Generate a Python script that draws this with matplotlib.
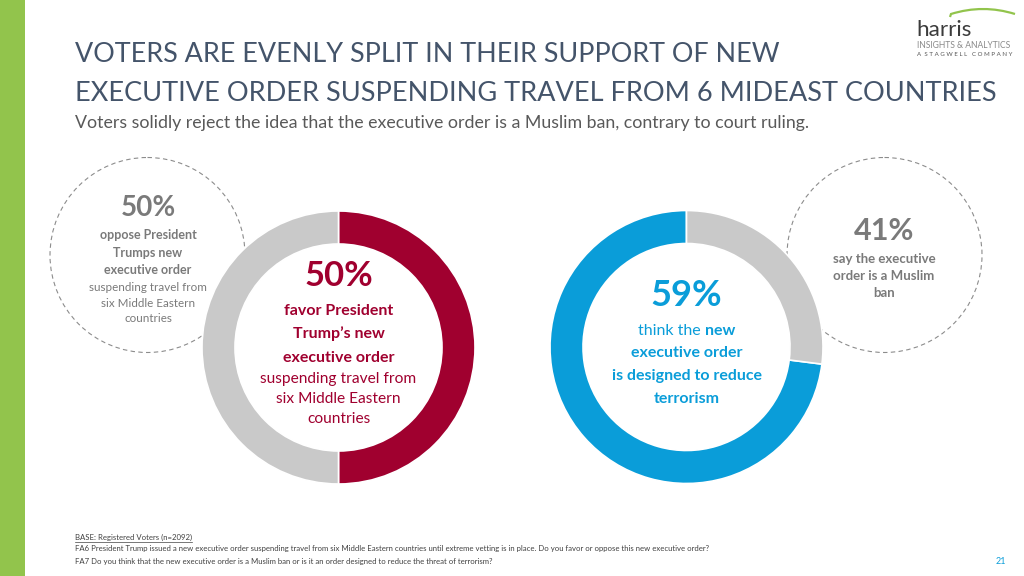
import numpy as np
import matplotlib
matplotlib.use("Agg")
import matplotlib.pyplot as plt
from matplotlib.patches import Circle, Rectangle, PathPatch
from matplotlib.path import Path

# ring values as drawn (first slice = highlighted answer)
favor_ring = [50, 50]      # favor, oppose
reason_ring = [73, 27]     # reduce terrorism, muslim ban (as drawn on the ring)
favor_pct = "50%"
oppose_pct = "50%"
reduce_pct = "59%"
ban_pct = "41%"

title_lines = ["VOTERS ARE EVENLY SPLIT IN THEIR SUPPORT OF NEW",
               "EXECUTIVE ORDER SUSPENDING TRAVEL FROM 6 MIDEAST COUNTRIES"]
subtitle = "Voters solidly reject the idea that the executive order is a Muslim ban, contrary to court ruling."
footnotes = ["BASE: Registered Voters (n=2092)",
             "FA6 President Trump issued a new executive order suspending travel from six Middle Eastern countries until extreme vetting is in place. Do you favor or oppose this new executive order?",
             "FA7 Do you think that the new executive order is a Muslim ban or is it an order designed to reduce the threat of terrorism?"]

RED = "#A0002F"
BLUE = "#0A9DD9"
RING_GRAY = "#C9C9C9"
TXT_GRAY = "#7A7A7A"
GREEN = "#92C44C"

plt.rcParams['font.family'] = ['Lato', 'DejaVu Sans']

fig = plt.figure(figsize=(10.24, 5.76), dpi=100)
fig.patch.set_facecolor("white")
renderer = fig.canvas.get_renderer()

# background axes in pixel coordinates
ax = fig.add_axes([0, 0, 1, 1], zorder=0)
ax.set_xlim(0, 1024)
ax.set_ylim(576, 0)
ax.axis("off")


def fit(t, width):
    w = t.get_window_extent(renderer).width
    t.set_fontsize(t.get_fontsize() * width / w)
    return t


def mixed(x, y, parts, size, color):
    texts = [ax.text(0, y, s, fontsize=size, fontweight=wt, color=color, ha="left", va="baseline")
             for s, wt in parts]
    widths = [t.get_window_extent(renderer).width for t in texts]
    x0 = x - sum(widths) / 2
    for t, w in zip(texts, widths):
        t.set_x(x0)
        x0 += w


# green side bar
ax.add_patch(Rectangle((0, 0), 25, 576, color=GREEN, lw=0))

# title + subtitle
t1 = ax.text(75, 62, title_lines[0], fontsize=20, color="#44546A", va="baseline")
fit(t1, 701)
t2 = ax.text(75, 101, title_lines[1], fontsize=20, color="#44546A", va="baseline")
fit(t2, 917)
t3 = ax.text(75, 128, subtitle, fontsize=12, color="#595959", va="baseline")
fit(t3, 731)

# logo
lg = ax.text(916, 36, "harris", fontsize=19, color="#3C3C3C", va="baseline")
fit(lg, 55)
l2 = ax.text(917, 48.5, "INSIGHTS & ANALYTICS", fontsize=5, color="#8A8A8A", va="baseline")
fit(l2, 95)
l3 = ax.text(917, 56, "A  S T A G W E L L   C O M P A N Y", fontsize=3.5, color="#555555", va="baseline")
fit(l3, 95)
arc = Path([(950, 17), (951, 14), (983, 4), (1015, 14)],
           [Path.MOVETO, Path.LINETO, Path.CURVE3, Path.CURVE3])
ax.add_patch(PathPatch(arc, fill=False, ec=GREEN, lw=1.6))

# dashed callout circles
for cx, cy, r in [(147.5, 255, 97.5), (884.5, 255, 97.5)]:
    ax.add_patch(Circle((cx, cy), r, fill=False, ec="#8C8C8C", lw=0.8, ls=(0, (4, 3))))

# left callout (oppose)
ax.text(148, 216, oppose_pct, fontsize=20, fontweight="bold", color=TXT_GRAY, ha="center", va="baseline")
for s, yb in [("oppose President", 239), ("Trumps new", 257), ("executive order", 274)]:
    ax.text(148, yb, s, fontsize=9.0, fontweight="bold", color=TXT_GRAY, ha="center", va="baseline")
for s, yb in [("suspending travel from", 291), ("six Middle Eastern", 307), ("countries", 322)]:
    ax.text(148, yb, s, fontsize=8.4, color=TXT_GRAY, ha="center", va="baseline")

# right callout (muslim ban)
ax.text(884, 240, ban_pct, fontsize=22, fontweight="bold", color=TXT_GRAY, ha="center", va="baseline")
for s, yb in [("say the executive", 263), ("order is a Muslim", 280), ("ban", 297)]:
    ax.text(884, yb, s, fontsize=9.5, fontweight="bold", color=TXT_GRAY, ha="center", va="baseline")

# donut 1 centre text
ax.text(338.5, 286, favor_pct, fontsize=25, fontweight="bold", color=RED, ha="center", va="baseline")
for s, yb in [("favor President", 315), ("Trump\u2019s new", 338), ("executive order", 362)]:
    ax.text(338.5, yb, s, fontsize=11.5, fontweight="bold", color=RED, ha="center", va="baseline")
for s, yb in [("suspending travel from", 383), ("six Middle Eastern", 403), ("countries", 423)]:
    ax.text(338.5, yb, s, fontsize=11.2, color=RED, ha="center", va="baseline")

# donut 2 centre text
ax.text(686.5, 306, reduce_pct, fontsize=26, fontweight="bold", color=BLUE, ha="center", va="baseline")
mixed(686.5, 335, [("think the ", "normal"), ("new", "bold")], 11.5, BLUE)
for s, yb in [("executive order", 357), ("is designed to reduce", 380), ("terrorism", 403)]:
    ax.text(686.5, yb, s, fontsize=11.5, fontweight="bold", color=BLUE, ha="center", va="baseline")

# footnotes
f1 = ax.text(75, 551, footnotes[1], fontsize=5, color="#404040", va="baseline")
fit(f1, 642)
fs = f1.get_fontsize()
f0 = ax.text(75, 540, footnotes[0], fontsize=fs, color="#404040", va="baseline")
w0 = f0.get_window_extent(renderer).width
ax.plot([75, 75 + w0], [541.5, 541.5], color="#404040", lw=0.5)
ax.text(75, 564, footnotes[2], fontsize=fs, color="#404040", va="baseline")
ax.text(1001, 564, "21", fontsize=6.5, color=BLUE, ha="center", va="baseline")


def donut(cx, cy, r, vals, colors, counterclock):
    a = fig.add_axes([(cx - r) / 1024, (576 - cy - r) / 576, 2 * r / 1024, 2 * r / 576], zorder=1)
    a.pie(vals, colors=colors, startangle=90, counterclock=counterclock, radius=1,
          wedgeprops=dict(width=33 / r, edgecolor="white", linewidth=1.2))
    a.set_xlim(-1, 1)
    a.set_ylim(-1, 1)
    a.axis("off")
    return a


donut(338.5, 347.5, 136.5, favor_ring, [RED, RING_GRAY], counterclock=False)
donut(686.5, 347, 136.5, reason_ring, [BLUE, RING_GRAY], counterclock=True)

fig.savefig("out.png", dpi=100, facecolor="white")
